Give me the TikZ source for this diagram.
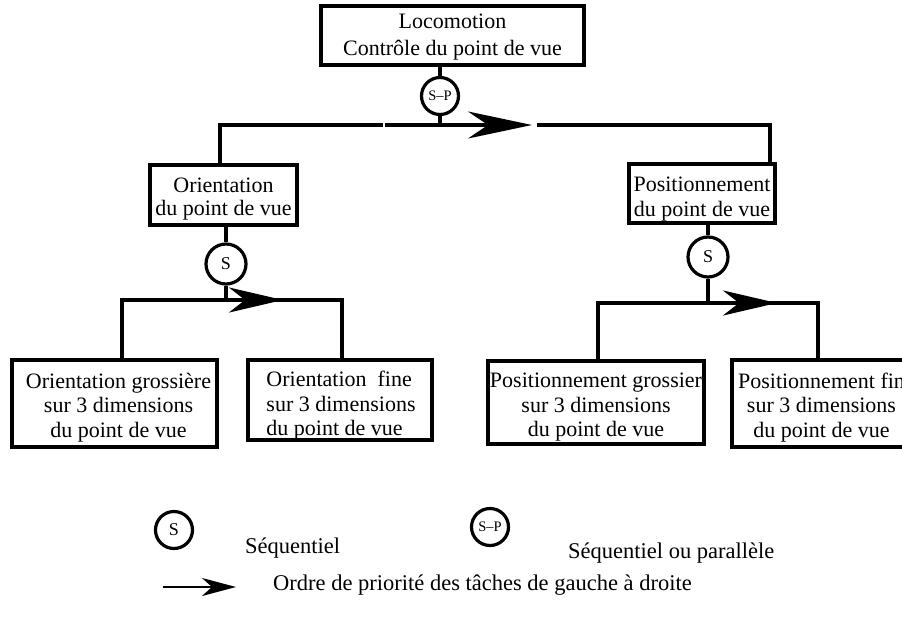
\documentclass[tikz,border=0pt]{standalone}
\usepackage{fontspec}
\setmainfont{Liberation Serif}
\usetikzlibrary{arrows.meta}
\begin{document}
\begin{tikzpicture}[x=1pt,y=-1pt,
  box/.style={draw, line width=3.5pt, rectangle, inner sep=0pt},
  bt/.style={inner sep=0pt, align=center, font=\fontsize{22}{24.5}\selectfont},
  btl/.style={inner sep=0pt, align=left, font=\fontsize{22}{24.5}\selectfont},
  conn/.style={line width=3.5pt, line join=miter},
  opcircle/.style={draw, circle, line width=3.2pt, inner sep=0pt},
  stext/.style={font=\fontsize{18}{18}\selectfont},
  sptext/.style={font=\fontsize{14.5}{14.5}\selectfont},
  legtext/.style={inner sep=0pt, font=\fontsize{22.5}{24}\selectfont},
  bigarrow/.style={line width=3.5pt, -{Stealth[length=64pt, width=27pt, inset=20pt]}},
  midarrow/.style={line width=3.5pt, -{Stealth[length=54pt, width=25pt, inset=16pt]}},
  legarrow/.style={line width=2.2pt, -{Stealth[length=34pt, width=18pt, inset=10pt]}}]
\clip (0,0) rectangle (902,624);
\fill[white] (0,0) rectangle (902,624);

% top
\node[box, minimum width=263pt, minimum height=59pt,
  label={[bt, font=\fontsize{22}{27}\selectfont, yshift=-2pt]center:{Locomotion\\Contrôle du point de vue}}]
  (loco) at (452.5,35.5) {};
\node[opcircle, sptext, minimum size=37pt] (sp) at (440,96) {S–P};
\coordinate (hl) at (220,125);
\coordinate (hm) at (440,125);
\coordinate (tip0) at (532,125);
\coordinate (hr0) at (537,125);
\coordinate (hr) at (770,125);

% level 2
\node[box, minimum width=147pt, minimum height=60pt,
  label={[bt, font=\fontsize{22}{23.5}\selectfont, yshift=-4pt]center:{Orientation\\du point de vue}}]
  (ori) at (223.5,195) {};
\node[box, minimum width=146pt, minimum height=59pt,
  label={[bt, font=\fontsize{22}{25}\selectfont, yshift=-6pt]center:{Positionnement\\du point de vue}}]
  (pos) at (702,193.5) {};
\node[opcircle, stext, minimum size=40pt] (s1) at (226,264) {S};
\node[opcircle, stext, minimum size=40pt] (s2) at (708,257) {S};

\coordinate (a1) at (122,300);
\coordinate (j1) at (226,300);
\coordinate (t1) at (283,300);
\coordinate (b1) at (342,300);
\coordinate (a2) at (598,303);
\coordinate (j2) at (708,303);
\coordinate (t2) at (777,303);
\coordinate (b2) at (818,303);

% level 3
\node[box, minimum width=205pt, minimum height=87pt,
  label={[bt, yshift=-4pt, xshift=4pt]center:{Orientation grossière\\sur 3 dimensions\\du point de vue}}]
  (og) at (114.5,403.5) {};
\node[box, minimum width=184pt, minimum height=80pt,
  label={[btl, yshift=-6pt, xshift=1pt]center:{Orientation\ \ fine\\sur 3 dimensions\\du point de vue}}]
  (of) at (340,400) {};
\node[box, minimum width=216pt, minimum height=83pt,
  label={[bt, yshift=-5pt]center:{Positionnement grossier\\sur 3 dimensions\\du point de vue}}]
  (pg) at (596,402.5) {};
\node[box, minimum width=183pt, minimum height=87pt,
  label={[bt, yshift=-4pt, xshift=-2pt]center:{Positionnement fin\\sur 3 dimensions\\du point de vue}}]
  (pf) at (823.5,403.5) {};

% connectors top
\draw[conn] (sp |- loco.south) -- (sp.north);
\draw[conn] (sp.south) -- (hm);
\draw[conn] (hl |- ori.north) -- (hl) -- (383,125);
\draw[bigarrow] (385,125) -- (tip0);
\draw[conn] (hr0) -- (hr) -- (hr |- pos.north);

% connectors left
\draw[conn] (s1 |- ori.south) -- (s1.north);
\draw[conn] (s1.south) -- (j1);
\draw[conn] (a1 |- og.north) -- (a1) -- (b1) -- (b1 |- of.north);
\draw[midarrow] (j1) -- (t1);

% connectors right
\draw[conn] (s2 |- pos.south) -- (s2.north);
\draw[conn] (s2.south) -- (j2);
\draw[conn] (a2 |- pg.north) -- (a2) -- (b2) -- (b2 |- pf.north);
\draw[midarrow] (j2) -- (t2);

% legend
\node[opcircle, stext, minimum size=37pt] (ls) at (174,530) {S};
\node[legtext, anchor=west] (lst) at (245,548) {Séquentiel};
\node[opcircle, sptext, minimum size=37pt] (lsp) at (490,527) {S–P};
\node[legtext, anchor=west] (lspt) at (568,553) {Séquentiel ou parallèle};
\coordinate (la0) at (163,587);
\coordinate (la1) at (236,587);
\draw[legarrow] (la0) -- (la1);
\node[legtext, anchor=west] (lat) at (273,585) {Ordre de priorité des tâches de gauche à droite};
\end{tikzpicture}
\end{document}
